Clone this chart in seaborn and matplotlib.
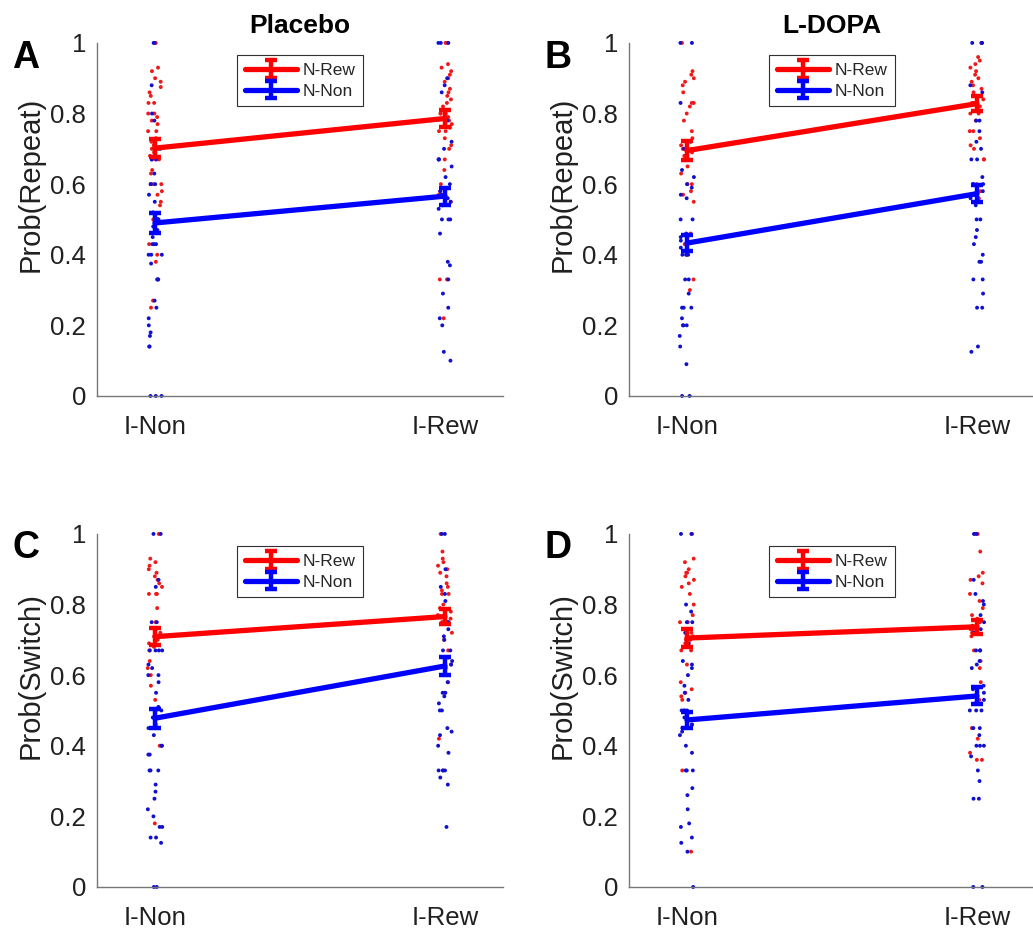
import numpy as np
import pandas as pd
import matplotlib
matplotlib.use("Agg")
import matplotlib.pyplot as plt
import seaborn as sns

# ---------------- data ----------------
conditions = ["I-Non", "I-Rew"]
series_names = ["N-Rew", "N-Non"]
panel_titles = ["Placebo", "L-DOPA", "", ""]
panel_letters = ["A", "B", "C", "D"]
panel_ylabels = ["Prob(Repeat)", "Prob(Repeat)", "Prob(Switch)", "Prob(Switch)"]
y_ticks = [0, 0.2, 0.4, 0.6, 0.8, 1]
y_ticklabels = ["0", "0.2", "0.4", "0.6", "0.8", "1"]

# Panel A: Placebo, repeat probability (individual subjects)
pa_rew_inon = [1.0, 0.93, 0.92, 0.90, 0.89, 0.875, 0.86, 0.85, 0.83, 0.83, 0.80, 0.80, 0.79, 0.78,
               0.77, 0.75, 0.75, 0.73, 0.72, 0.71, 0.70, 0.70, 0.69, 0.68, 0.67, 0.67, 0.64, 0.63,
               0.60, 0.60, 0.58, 0.57, 0.55, 0.54, 0.50, 0.43, 0.40, 0.38, 0.27, 0.25]
pa_rew_irew = [1.0, 1.0, 0.94, 0.93, 0.92, 0.91, 0.90, 0.89, 0.87, 0.86, 0.85, 0.84, 0.83, 0.82,
               0.80, 0.80, 0.80, 0.79, 0.78, 0.77, 0.76, 0.75, 0.75, 0.73, 0.71, 0.70, 0.67, 0.64,
               0.60, 0.58, 0.57, 0.55, 0.33, 0.33, 0.22]
pa_non_inon = [1.0, 1.0, 0.88, 0.80, 0.78, 0.70, 0.67, 0.67, 0.67, 0.63, 0.60, 0.60, 0.60, 0.57,
               0.55, 0.52, 0.50, 0.50, 0.50, 0.50, 0.48, 0.47, 0.45, 0.43, 0.43, 0.43, 0.40, 0.40,
               0.40, 0.375, 0.33, 0.33, 0.33, 0.27, 0.25, 0.22, 0.20, 0.18, 0.17, 0.14, 0.14, 0.0,
               0.0, 0.0]
pa_non_irew = [1.0, 1.0, 1.0, 0.90, 0.88, 0.86, 0.78, 0.72, 0.70, 0.67, 0.67, 0.67, 0.65, 0.62,
               0.60, 0.58, 0.57, 0.56, 0.55, 0.54, 0.53, 0.50, 0.50, 0.50, 0.46, 0.38, 0.37, 0.33,
               0.29, 0.25, 0.22, 0.20, 0.125, 0.10]
pa_rew_mean = [0.702, 0.786]
pa_non_mean = [0.490, 0.566]
pa_rew_sem = [0.026, 0.024]
pa_non_sem = [0.028, 0.024]

# Panel B: L-DOPA, repeat probability
pb_rew_inon = [1.0, 0.92, 0.91, 0.90, 0.89, 0.88, 0.86, 0.83, 0.83, 0.82, 0.80, 0.78, 0.75, 0.73,
               0.71, 0.70, 0.70, 0.69, 0.68, 0.67, 0.67, 0.65, 0.63, 0.60, 0.60, 0.58, 0.57, 0.55,
               0.46, 0.43, 0.33, 0.30]
pb_rew_irew = [1.0, 0.96, 0.95, 0.94, 0.93, 0.92, 0.91, 0.90, 0.89, 0.88, 0.87, 0.86, 0.85, 0.84,
               0.83, 0.83, 0.82, 0.81, 0.80, 0.80, 0.78, 0.75, 0.75, 0.73, 0.71, 0.70, 0.67, 0.67,
               0.60, 0.58, 0.56, 0.55]
pb_non_inon = [1.0, 1.0, 0.83, 0.72, 0.70, 0.68, 0.64, 0.62, 0.60, 0.59, 0.57, 0.56, 0.50, 0.50,
               0.46, 0.45, 0.44, 0.43, 0.42, 0.40, 0.40, 0.40, 0.40, 0.33, 0.33, 0.29, 0.25, 0.25,
               0.25, 0.22, 0.20, 0.20, 0.20, 0.17, 0.14, 0.09, 0.0, 0.0]
pb_non_irew = [1.0, 1.0, 1.0, 0.88, 0.86, 0.78, 0.78, 0.75, 0.72, 0.70, 0.67, 0.67, 0.62, 0.60,
               0.60, 0.60, 0.58, 0.57, 0.56, 0.55, 0.54, 0.50, 0.50, 0.47, 0.45, 0.43, 0.40, 0.38,
               0.38, 0.33, 0.33, 0.29, 0.25, 0.25, 0.14, 0.125]
pb_rew_mean = [0.695, 0.828]
pb_non_mean = [0.433, 0.573]
pb_rew_sem = [0.027, 0.022]
pb_non_sem = [0.022, 0.024]

# Panel C: Placebo, switch probability
pc_rew_inon = [1.0, 0.93, 0.92, 0.91, 0.90, 0.89, 0.88, 0.87, 0.86, 0.85, 0.83, 0.83, 0.83, 0.79,
               0.75, 0.73, 0.72, 0.71, 0.70, 0.70, 0.69, 0.68, 0.67, 0.64, 0.62, 0.60, 0.57, 0.53,
               0.46, 0.40, 0.18]
pc_rew_irew = [1.0, 0.95, 0.93, 0.92, 0.91, 0.90, 0.89, 0.88, 0.86, 0.85, 0.84, 0.83, 0.83, 0.80,
               0.79, 0.78, 0.77, 0.76, 0.75, 0.75, 0.72, 0.70, 0.67, 0.65, 0.63, 0.58, 0.55, 0.42,
               0.33]
pc_non_inon = [1.0, 1.0, 0.87, 0.85, 0.75, 0.75, 0.71, 0.67, 0.67, 0.67, 0.67, 0.63, 0.62, 0.60,
               0.60, 0.58, 0.55, 0.51, 0.50, 0.50, 0.48, 0.45, 0.45, 0.45, 0.43, 0.40, 0.40, 0.375,
               0.375, 0.33, 0.33, 0.33, 0.29, 0.27, 0.25, 0.22, 0.20, 0.17, 0.17, 0.14, 0.14, 0.125,
               0.0, 0.0]
pc_non_irew = [1.0, 1.0, 0.90, 0.85, 0.83, 0.81, 0.75, 0.75, 0.73, 0.71, 0.70, 0.67, 0.67, 0.65,
               0.64, 0.63, 0.62, 0.60, 0.60, 0.58, 0.55, 0.55, 0.54, 0.52, 0.50, 0.50, 0.45, 0.44,
               0.43, 0.40, 0.38, 0.33, 0.33, 0.33, 0.31, 0.29, 0.17]
pc_rew_mean = [0.709, 0.766]
pc_non_mean = [0.478, 0.626]
pc_rew_sem = [0.025, 0.022]
pc_non_sem = [0.027, 0.025]

# Panel D: L-DOPA, switch probability
pd_rew_inon = [1.0, 0.93, 0.92, 0.90, 0.89, 0.89, 0.88, 0.87, 0.86, 0.85, 0.83, 0.80, 0.77, 0.75,
               0.75, 0.72, 0.71, 0.70, 0.70, 0.69, 0.68, 0.67, 0.67, 0.63, 0.58, 0.56, 0.55, 0.54,
               0.53, 0.46, 0.33, 0.10]
pd_rew_irew = [1.0, 1.0, 0.95, 0.89, 0.88, 0.87, 0.86, 0.83, 0.81, 0.79, 0.77, 0.76, 0.75, 0.74,
               0.73, 0.73, 0.72, 0.71, 0.67, 0.64, 0.62, 0.58, 0.53, 0.52, 0.45, 0.42, 0.38, 0.36,
               0.36]
pd_non_inon = [1.0, 1.0, 0.80, 0.78, 0.75, 0.75, 0.72, 0.69, 0.64, 0.63, 0.62, 0.60, 0.57, 0.55,
               0.53, 0.50, 0.50, 0.50, 0.50, 0.48, 0.46, 0.45, 0.45, 0.44, 0.43, 0.40, 0.38, 0.33,
               0.33, 0.33, 0.28, 0.26, 0.22, 0.18, 0.17, 0.14, 0.125, 0.10, 0.0]
pd_non_irew = [1.0, 1.0, 0.87, 0.83, 0.81, 0.80, 0.77, 0.75, 0.73, 0.72, 0.67, 0.67, 0.67, 0.64,
               0.63, 0.62, 0.57, 0.56, 0.55, 0.54, 0.53, 0.52, 0.50, 0.50, 0.50, 0.45, 0.45, 0.43,
               0.40, 0.40, 0.40, 0.37, 0.33, 0.30, 0.25, 0.25, 0.0, 0.0]
pd_rew_mean = [0.705, 0.737]
pd_non_mean = [0.473, 0.541]
pd_rew_sem = [0.025, 0.020]
pd_non_sem = [0.024, 0.024]

panels = [
    (pa_rew_inon, pa_rew_irew, pa_non_inon, pa_non_irew, pa_rew_mean, pa_non_mean, pa_rew_sem, pa_non_sem),
    (pb_rew_inon, pb_rew_irew, pb_non_inon, pb_non_irew, pb_rew_mean, pb_non_mean, pb_rew_sem, pb_non_sem),
    (pc_rew_inon, pc_rew_irew, pc_non_inon, pc_non_irew, pc_rew_mean, pc_non_mean, pc_rew_sem, pc_non_sem),
    (pd_rew_inon, pd_rew_irew, pd_non_inon, pd_non_irew, pd_rew_mean, pd_non_mean, pd_rew_sem, pd_non_sem),
]

# ---------------- style ----------------
sns.set_theme(style="white")
plt.rcParams["font.family"] = ["Liberation Sans", "DejaVu Sans"]
RED = "#ff0000"
BLUE = "#0000ff"
DOT_RED = "#f01818"
DOT_BLUE = "#1010d0"
AX_COLOR = "#767676"
TXT = "#202020"

fig = plt.figure(figsize=(10.33, 9.31), dpi=100)
rects = [
    [0.0939, 0.5747, 0.393, 0.3792],
    [0.6089, 0.5747, 0.393, 0.3792],
    [0.0939, 0.0473, 0.393, 0.3792],
    [0.6089, 0.0473, 0.393, 0.3792],
]
letter_pos = [(0.012, 0.927), (0.527, 0.927), (0.012, 0.401), (0.527, 0.401)]
xpos = [1, 2]

np.random.seed(3)
for i, (rect, vals) in enumerate(zip(rects, panels)):
    rew_inon, rew_irew, non_inon, non_irew, rew_mean, non_mean, rew_sem, non_sem = vals
    ax = fig.add_axes(rect)

    frames = []
    for name, arr_a, arr_b in (("N-Rew", rew_inon, rew_irew), ("N-Non", non_inon, non_irew)):
        frames.append(pd.DataFrame({"pos": xpos[0], "value": arr_a, "series": name}))
        frames.append(pd.DataFrame({"pos": xpos[1], "value": arr_b, "series": name}))
    df = pd.concat(frames, ignore_index=True)

    sns.stripplot(data=df, x="pos", y="value", hue="series", hue_order=series_names,
                  palette={"N-Rew": DOT_RED, "N-Non": DOT_BLUE}, native_scale=True,
                  jitter=0.025, size=2.8, linewidth=0, legend=False, ax=ax, zorder=1)
    for coll in ax.collections:
        coll.set_clip_on(False)

    ax.errorbar(xpos, rew_mean, yerr=rew_sem, color=RED, lw=3.8, elinewidth=3.2,
                capsize=4.5, capthick=3.2, label="N-Rew", zorder=3)
    ax.errorbar(xpos, non_mean, yerr=non_sem, color=BLUE, lw=3.8, elinewidth=3.2,
                capsize=4.5, capthick=3.2, label="N-Non", zorder=3)

    ax.set_xlim(0.8, 2.2)
    ax.set_ylim(0, 1)
    ax.set_xticks(xpos)
    ax.set_xticklabels(conditions)
    ax.set_yticks(y_ticks)
    ax.set_yticklabels(y_ticklabels)
    ax.set_xlabel("")
    ax.set_ylabel(panel_ylabels[i], fontsize=21, color=TXT)
    ax.yaxis.set_label_coords(-0.128, 0.6)
    ax.tick_params(axis="both", direction="in", length=4, width=0.8, color=AX_COLOR,
                   labelsize=18.5, labelcolor=TXT)
    ax.tick_params(axis="x", pad=14)
    ax.tick_params(axis="y", pad=8)
    for side in ("top", "right"):
        ax.spines[side].set_visible(False)
    for side in ("left", "bottom"):
        ax.spines[side].set_color(AX_COLOR)
        ax.spines[side].set_linewidth(1.0)
    ax.grid(False)

    if panel_titles[i]:
        ax.set_title(panel_titles[i], fontsize=19, fontweight="bold", pad=7, color="black")

    leg = ax.legend(loc="upper center", bbox_to_anchor=(0.5, 0.965), fontsize=12.5,
                    frameon=True, fancybox=False, framealpha=1, edgecolor="#303030",
                    handlelength=3.0, handletextpad=0.3, borderpad=0.45, labelspacing=0.3,
                    borderaxespad=0)
    leg.get_frame().set_linewidth(0.8)

    fig.text(letter_pos[i][0], letter_pos[i][1], panel_letters[i], fontsize=27,
             fontweight="bold", color="black", ha="left", va="baseline")

fig.savefig("out.png", dpi=100)
